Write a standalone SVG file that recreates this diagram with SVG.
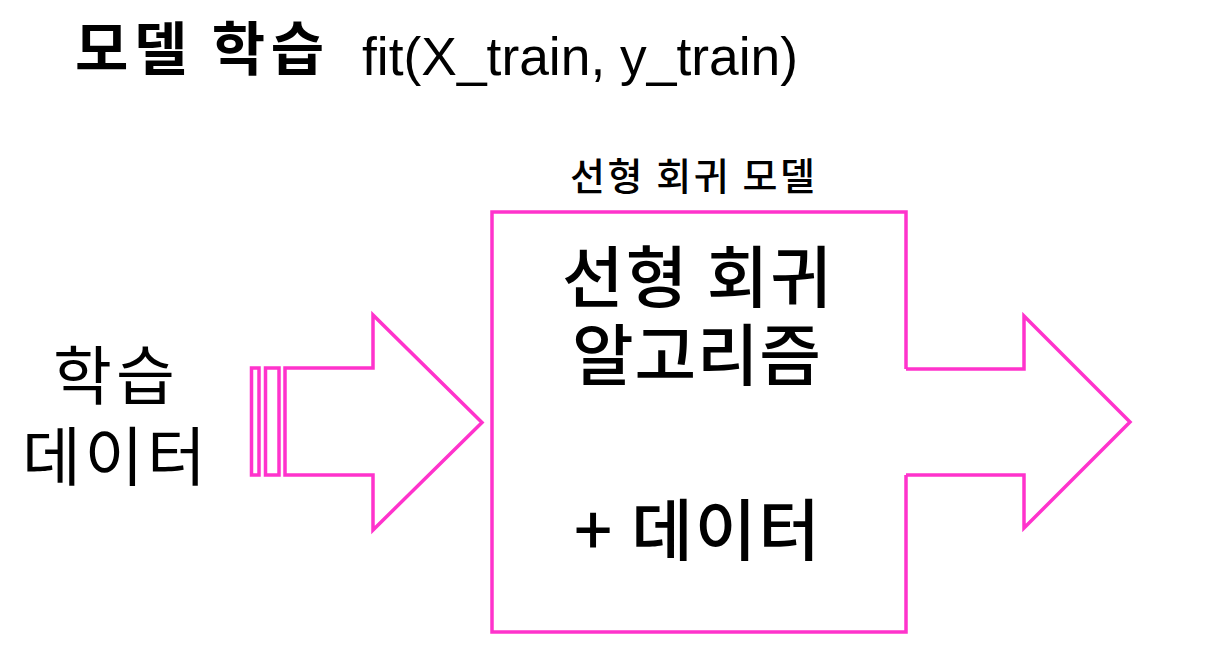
<svg xmlns="http://www.w3.org/2000/svg" width="1225" height="657" viewBox="0 0 1225 657">
<style>
.s{fill:none;stroke:#FF33CC;stroke-width:3.5;stroke-linejoin:miter}
.t{font-family:"Noto Sans CJK KR","Noto Sans",sans-serif;fill:#000}
.l{font-family:"Liberation Sans",Arial,sans-serif;fill:#000}
</style>
<rect width="1225" height="657" fill="#fff"/>
<g id="title">
<text class="t" x="75" y="70" font-size="58" font-weight="bold" textLength="249" lengthAdjust="spacing">모델 학습</text>
<text class="l" x="362" y="75" font-size="54" textLength="436" lengthAdjust="spacingAndGlyphs">fit(X_train, y_train)</text>
</g>
<g id="input-label">
<text class="t" x="53" y="399" font-size="64" textLength="122" lengthAdjust="spacing">학습</text>
<text class="t" x="22" y="480" font-size="64" textLength="184" lengthAdjust="spacing">데이터</text>
</g>
<g id="connectors">
<rect class="s" x="251.5" y="368" width="7.5" height="107"/>
<rect class="s" x="265.5" y="368" width="13.5" height="107"/>
<polygon class="s" points="285,368 373,368 373,315 482,422.5 373,530 373,475 285,475"/>
</g>
<g id="model">
<text class="t" x="570" y="190" font-size="38" font-weight="500" textLength="245" lengthAdjust="spacing">선형 회귀 모델</text>
<path class="s" d="M906,369 L906,212 L492,212 L492,632 L906,632 L906,475"/>
<text class="t" x="562" y="302" font-size="67" font-weight="500" textLength="270" lengthAdjust="spacing">선형 회귀</text>
<text class="t" x="572" y="380" font-size="67" font-weight="500" textLength="249" lengthAdjust="spacing">알고리즘</text>
<text class="t" x="574" y="555" font-size="67" font-weight="500" textLength="246" lengthAdjust="spacing">+ 데이터</text>
</g>
<g id="output">
<path class="s" d="M906,369 L1024,369 L1024,316 L1130,422 L1024,528 L1024,475 L906,475"/>
</g>
</svg>
